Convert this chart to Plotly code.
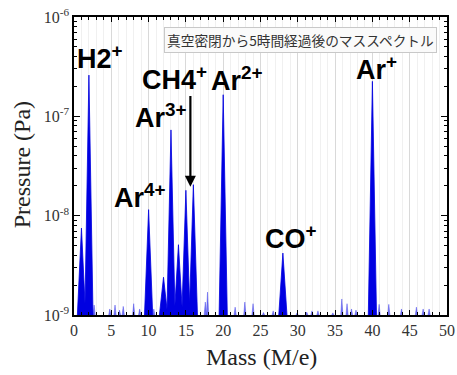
import plotly.graph_objects as go

# ---- data ----
major_mass = [1, 2, 10, 12, 13, 14, 15, 16, 20, 28, 40]
major_pressure = [7.5e-9, 2.6e-7, 1.15e-8, 2.4e-9, 7.3e-8, 5.1e-9, 1.8e-8, 2.05e-8, 1.65e-7, 4.2e-9, 2.25e-7]

minor_mass = [2.7, 4.8, 5.5, 6.1, 6.6, 8.0, 8.8, 10.7, 17.6, 17.9, 21.6, 22.9, 24.0, 25.4, 26.7,
              29.9, 31.2, 31.9, 32.7, 34.7, 35.9, 36.6, 37.2, 37.8, 40.9, 42.2, 43.9, 45.9, 46.8, 47.6]
minor_pressure = [1.26e-9, 1.15e-9, 1.26e-9, 1.12e-9, 1.22e-9, 1.3e-9, 1.15e-9, 1.15e-9, 1.35e-9, 1.7e-9,
                  1.2e-9, 1.35e-9, 1.3e-9, 1.06e-9, 1.1e-9,
                  1.05e-9, 1.07e-9, 1.1e-9, 1.1e-9, 1.05e-9, 1.45e-9, 1.3e-9, 1.15e-9, 1.12e-9,
                  1.28e-9, 1.28e-9, 1.15e-9, 1.2e-9, 1.15e-9, 1.15e-9]

labels = ["H2<sup>+</sup>", "CH4<sup>+</sup>", "Ar<sup>2+</sup>", "Ar<sup>3+</sup>",
          "Ar<sup>4+</sup>", "CO<sup>+</sup>", "Ar<sup>+</sup>"]
label_mass = [3.5, 13.5, 21.8, 11.7, 8.85, 29.1, 40.5]
label_logp = [-6.40, -6.61, -6.62, -7.00, -7.80, -8.21, -6.51]

x_ticks = [0, 5, 10, 15, 20, 25, 30, 35, 40, 45, 50]
y_ticks = [1e-9, 1e-8, 1e-7, 1e-6]
y_ticktext = ["10<sup>-9</sup>", "10<sup>-8</sup>", "10<sup>-7</sup>", "10<sup>-6</sup>"]

BASE = 1e-9


def peak_polygons(masses, heights, hw):
    xs, ys = [], []
    for m, h in zip(masses, heights):
        xs += [m - hw, m, m + hw, None]
        ys += [BASE, h, BASE, None]
    return xs, ys


fig = go.Figure()
mx, my = peak_polygons(minor_mass, minor_pressure, 0.15)
fig.add_trace(go.Scatter(x=mx, y=my, mode="lines", fill="toself",
                         fillcolor="rgba(60,60,235,0.7)", line=dict(width=0.6, color="rgba(60,60,235,0.7)"),
                         hoverinfo="skip", showlegend=False))
Mx, My = peak_polygons(major_mass, major_pressure, 0.55)
fig.add_trace(go.Scatter(x=Mx, y=My, mode="lines", fill="toself",
                         fillcolor="rgb(0,0,225)", line=dict(width=0.8, color="rgb(0,0,225)"),
                         hoverinfo="skip", showlegend=False))

serif = "Liberation Serif, Times New Roman, serif"
sans = "Liberation Sans, Arial, sans-serif"

annotations = []
for t, x, y in zip(labels, label_mass, label_logp):
    annotations.append(dict(x=x, y=y, xref="x", yref="y", text=t, showarrow=False,
                            xanchor="center", yanchor="middle",
                            font=dict(family=sans, size=27, color="black", weight="bold")))

# arrow to CH4+ peak
annotations.append(dict(x=15.6, y=-7.71, ax=15.6, ay=-6.78, xref="x", yref="y", axref="x", ayref="y",
                        text="", showarrow=True, arrowhead=2, arrowsize=1.0, arrowwidth=2.2,
                        arrowcolor="black"))

# box title
annotations.append(dict(x=0.606, y=0.924, xref="paper", yref="paper",
                        xanchor="center", yanchor="middle",
                        text="真空密閉から5時間経過後のマススペクトル", showarrow=False,
                        font=dict(family="Noto Sans CJK JP", size=13.7, color="#333"),
                        bordercolor="#c8c8c8", borderwidth=1, borderpad=2,
                        bgcolor="rgba(250,250,250,0.95)"))

# axis titles
annotations.append(dict(x=-0.139, y=0.503, xref="paper", yref="paper", text="Pressure (Pa)",
                        xanchor="center", yanchor="middle",
                        textangle=-90, showarrow=False,
                        font=dict(family=serif, size=24, color="#222")))
annotations.append(dict(x=0.504, y=-0.141, xref="paper", yref="paper", text="Mass (M/e)",
                        xanchor="center", yanchor="middle",
                        showarrow=False, font=dict(family=serif, size=24, color="#222")))

fig.update_layout(
    width=457, height=375,
    margin=dict(l=74, r=10, t=17, b=60, autoexpand=False),
    paper_bgcolor="white", plot_bgcolor="white",
    annotations=annotations,
    showlegend=False,
)

fig.update_xaxes(
    range=[0, 50], tickvals=x_ticks, automargin=False,
    ticks="inside", ticklen=5, tickcolor="black", tickwidth=1,
    showline=True, linecolor="black", linewidth=1.5, mirror="allticks",
    showgrid=True, gridcolor="#d9d9d9", gridwidth=1,
    minor=dict(dtick=1, ticks="inside", ticklen=3, tickcolor="black",
               showgrid=True, gridcolor="#f0f0f0"),
    tickfont=dict(family=serif, size=16, color="#333"),
    zeroline=False,
)

fig.update_yaxes(
    type="log", range=[-9, -6], tickvals=y_ticks, ticktext=y_ticktext, automargin=False,
    ticks="inside", ticklen=6, tickcolor="black",
    showline=True, linecolor="black", linewidth=1.5, mirror="allticks",
    showgrid=False,
    minor=dict(ticks="inside", ticklen=3, tickcolor="black",
               tickvals=[k * 10.0 ** e for e in (-9, -8, -7) for k in range(2, 10)]),
    tickfont=dict(family=serif, size=16, color="#333"),
    zeroline=False,
)

fig.write_html("out.html", config={"displayModeBar": False},
               post_script="document.body.style.margin='0';document.body.style.padding='0';")
